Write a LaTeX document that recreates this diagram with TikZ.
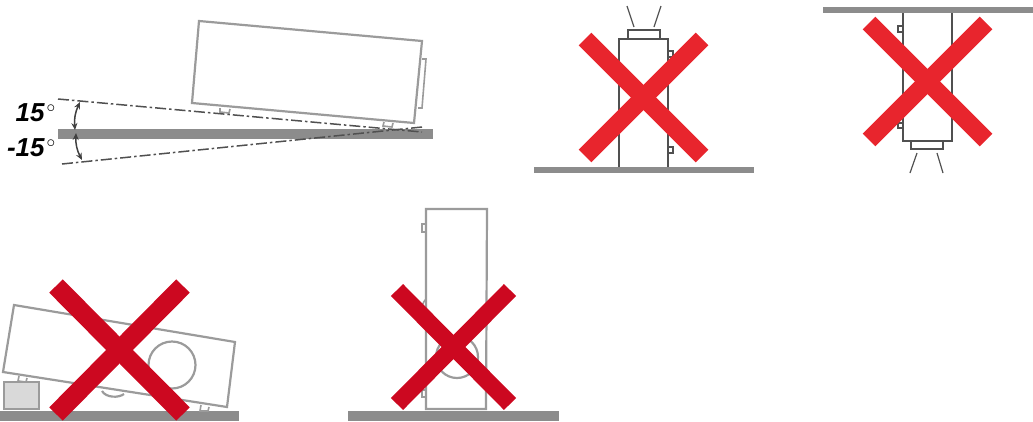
\documentclass[tikz,border=0pt]{standalone}
\usepackage{fontspec}
\setmainfont{Liberation Sans}
\usetikzlibrary{arrows.meta, positioning}
\definecolor{floorgray}{RGB}{140,140,140}
\definecolor{bodygray}{RGB}{155,155,155}
\definecolor{linegray}{RGB}{80,80,80}
\definecolor{boxgray}{RGB}{217,217,217}
\definecolor{crossred}{RGB}{232,37,45}
\definecolor{crossdark}{RGB}{204,8,32}

\begin{document}
\begin{tikzpicture}[
  x=1pt, y=-1pt,
  floorbar/.style={fill=floorgray, draw=none},
  outline/.style={draw=bodygray, line width=2.2pt, line join=miter},
  thinline/.style={draw=linegray, line width=1.2pt},
  tiltline/.style={draw=linegray, line width=1.5pt, dash pattern=on 11pt off 3pt on 2.5pt off 3pt},
  anglearrow/.style={{Stealth[length=7pt,width=6pt]}-{Stealth[length=7pt,width=6pt]}, draw=black!75, line width=1.5pt},
  anglelabel/.style={font=\fontsize{26}{28}\selectfont\bfseries\itshape, inner sep=0pt, anchor=east},
  redcross/.style={draw=crossred, line width=18pt},
  darkcross/.style={draw=crossdark, line width=#1}
]
\useasboundingbox (0,0) rectangle (1033,421);

% Allowed tilt
\fill[floorbar] (58,129) rectangle (433,139);
\draw[outline] (199,21) -- (422,41) -- (414,123) -- (192,103) -- cycle;
\draw[outline, line width=1.6pt] (422,59) -- (426,59) -- (422,108) -- (418,108);
\draw[outline, line width=1.6pt] (220,108) -- (220,112) -- (229,113) -- (230,109);
\draw[outline, line width=1.6pt] (384,122) -- (383,126) -- (392,127) -- (393,123);
\coordinate (upstart) at (58,99);
\coordinate (upend) at (422,132);
\coordinate (lowstart) at (62,164);
\coordinate (lowend) at (422,127);
\coordinate (uparrow) at (80,102);
\coordinate (midup) at (75,130);
\coordinate (midlow) at (76,133);
\coordinate (lowarrow) at (82,160);
\draw[tiltline] (upstart) -- (upend);
\draw[tiltline] (lowstart) -- (lowend);
\draw[anglearrow] (uparrow) to[bend right=15] (midup);
\draw[anglearrow] (midlow) to[bend right=15] (lowarrow);
\node[anglelabel] (plus) at (56,113) {15\kern2pt$^{\circ}$};
\node[anglelabel] (minus) at (56,148) {-15\kern2pt$^{\circ}$};

% Standing on the lens end
\fill[floorbar] (534,167) rectangle (754,173);
\draw[thinline] (619,167) -- (619,39) -- (668,39) -- (668,167);
\draw[thinline] (628,39) -- (628,30) -- (660,30) -- (660,39);
\draw[thinline] (668,51) -- (673,51) -- (673,57) -- (668,57);
\draw[thinline] (668,147) -- (673,147) -- (673,153) -- (668,153);
\draw[thinline] (627,6) -- (634,27);
\draw[thinline] (661,6) -- (654,27);
\draw[redcross] (585,39) -- (702,156);
\draw[redcross] (702,39) -- (585,156);

% Hanging from the ceiling
\fill[floorbar] (823,7) rectangle (1033,13);
\draw[thinline] (903,13) -- (903,141) -- (952,141) -- (952,13);
\draw[thinline] (911,141) -- (911,149) -- (943,149) -- (943,141);
\draw[thinline] (903,26) -- (898,26) -- (898,32) -- (903,32);
\draw[thinline] (903,123) -- (898,123) -- (898,128) -- (903,128);
\draw[thinline] (917,153) -- (910,173);
\draw[thinline] (937,153) -- (943,173);
\draw[redcross] (869,23) -- (986,140);
\draw[redcross] (986,23) -- (869,140);

% Propped up on a box
\fill[floorbar] (0,411) rectangle (239,421);
\draw[outline, fill=boxgray] (4,382) rectangle (39,409);
\draw[outline] (14,305) -- (235,342) -- (227,407) -- (3,372) -- cycle;
\draw[outline] (172,365) circle[radius=23.5];
\draw[outline] (102,391) .. controls (106,398) and (119,398) .. (124,394);
\draw[outline, line width=1.6pt] (19,376) -- (18,381) -- (26,382) -- (27,378);
\draw[outline, line width=1.6pt] (201,405) -- (200,411) -- (208,411) -- (209,407);
\draw[darkcross=19pt] (56,286) -- (183,414);
\draw[darkcross=19pt] (183,286) -- (56,414);

% Standing on its side
\fill[floorbar] (348,411) rectangle (559,421);
\draw[outline] (426,409) -- (426,209) -- (487,209) -- (486,409) -- cycle;
\draw[outline] (457,357) circle[radius=21];
\draw[outline, line width=1.6pt] (426,224) -- (422,224) -- (422,232) -- (426,232);
\draw[outline, line width=1.6pt] (426,390) -- (422,390) -- (422,397) -- (426,397);
\draw[outline, line width=1.6pt] (426,299) .. controls (423,302) and (421,307) .. (421,314);
\draw[darkcross=17pt] (397,290) -- (510,404);
\draw[darkcross=17pt] (510,290) -- (397,404);
\end{tikzpicture}
\end{document}
